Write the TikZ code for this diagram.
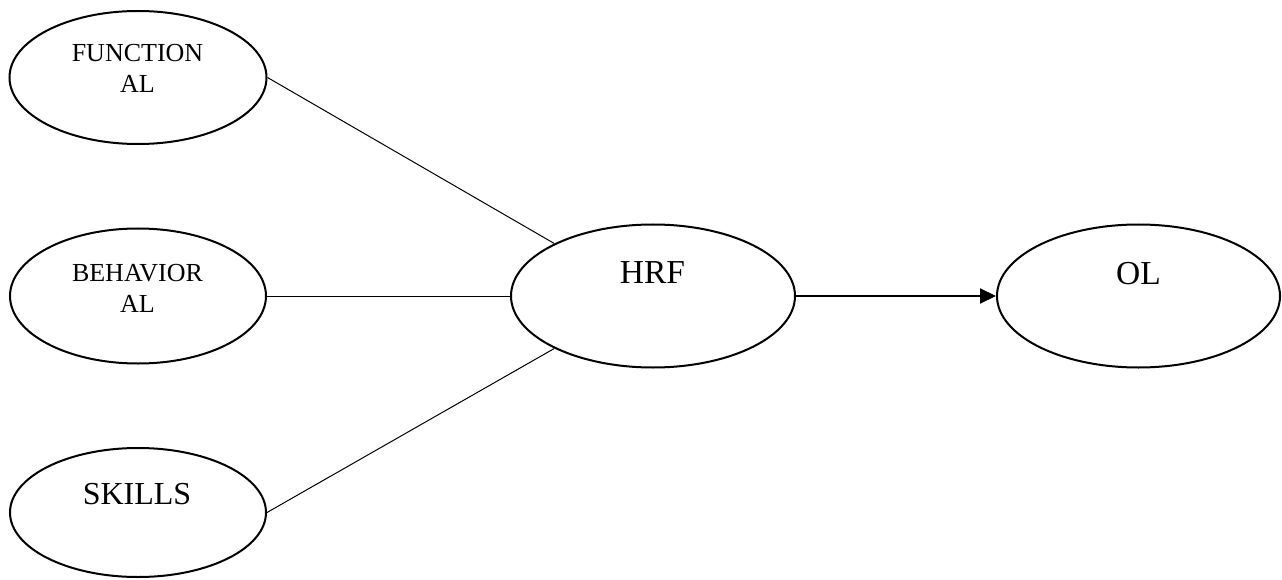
\documentclass[tikz,border=0pt]{standalone}
\usepackage{fontspec}
\setmainfont{Liberation Serif}
\usetikzlibrary{shapes.geometric,arrows.meta}
\begin{document}
\begin{tikzpicture}[x=1pt,y=-1pt,
  oval/.style={draw,ellipse,line width=2pt,inner sep=0pt},
  small/.style={anchor=base,inner sep=0pt,align=center,font=\fontsize{26}{31}\selectfont},
  big/.style={anchor=base,inner sep=0pt,font=\fontsize{33.5}{38}\selectfont},
  link/.style={line width=1pt},
  flow/.style={line width=2pt,-{Triangle[length=16pt,width=15pt]}}]
\useasboundingbox (0,0) rectangle (1282,580);
\node[oval,minimum width=257pt,minimum height=133pt] (F) at (138,77.5) {};
\node[oval,minimum width=256pt,minimum height=135pt] (B) at (138,296) {};
\node[oval,minimum width=256pt,minimum height=129pt] (S) at (138,512.5) {};
\node[oval,minimum width=284pt,minimum height=143pt] (H) at (653,296) {};
\node[oval,minimum width=283pt,minimum height=143pt] (O) at (1138.5,296) {};
\node[small] (Ft) at (137.5,93) {FUNCTION\\AL};
\node[small] (Bt) at (137.5,312) {BEHAVIOR\\AL};
\node[big,font=\fontsize{32}{38}\selectfont] (St) at (137,504) {SKILLS};
\node[big] (Ht) at (652.5,283) {HRF};
\node[big] (Ot) at (1138.5,284) {OL};
\draw[link] (F.east) -- (H.152);
\draw[link] (B.east) -- (H.west);
\draw[link] (S.east) -- (H.208);
\draw[flow] (H.east) -- (O.west);
\end{tikzpicture}
\end{document}
